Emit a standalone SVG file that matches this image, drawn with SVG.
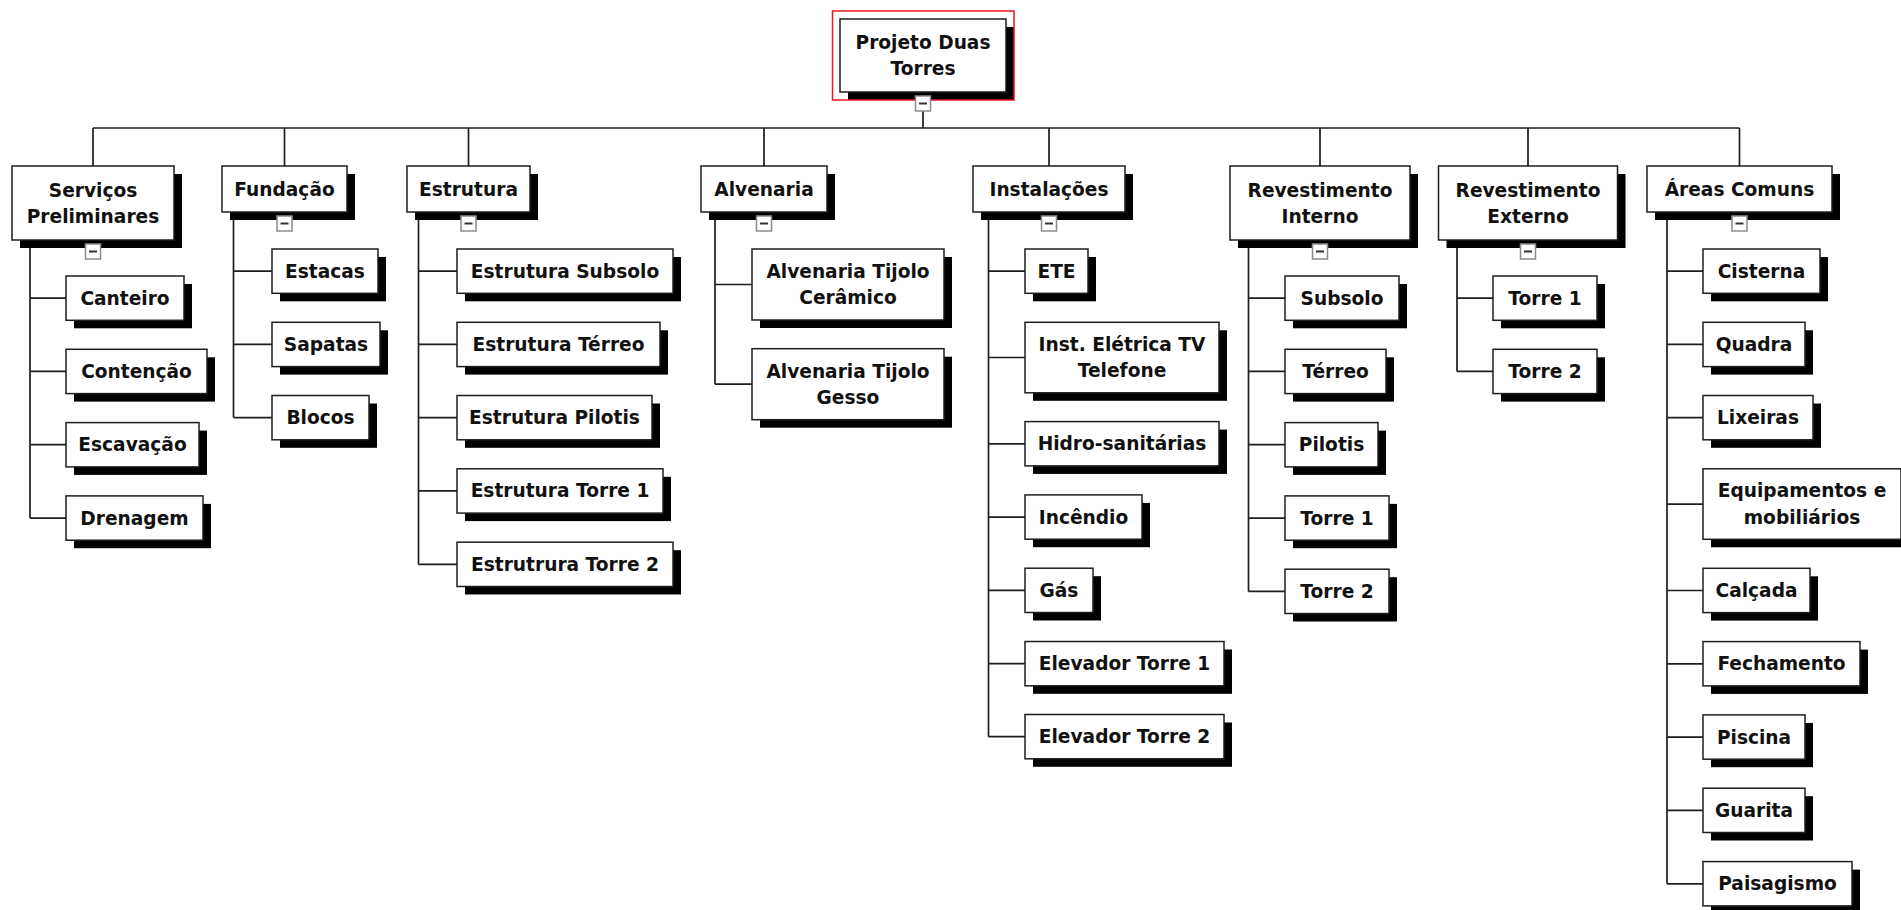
<svg xmlns="http://www.w3.org/2000/svg" width="1901" height="910" viewBox="0 0 1901 910">
<style>
.sh{fill:#000}
.bx{fill:#fff;stroke:#1e1e1e;stroke-width:1.5}
.t{font-family:"DejaVu Sans",Verdana,sans-serif;font-weight:bold;font-size:18.6px;fill:#111;text-anchor:middle}
.cb{fill:#fff;stroke:#8c8c8c;stroke-width:1.5}
.mn{stroke:#333;stroke-width:2}
.ln{fill:none;stroke:#1e1e1e;stroke-width:1.7}
.sel{fill:none;stroke:#e8191e;stroke-width:1.5}
</style>
<rect width="1901" height="910" fill="#fff"/>
<g id="connectors" class="ln">
<path d="M923 111V128M93 128H1739.5"/>
<path d="M93 128V166M284.5 128V166M468.5 128V166M764 128V166M1049 128V166M1320 128V166M1528 128V166M1739.5 128V166"/>
<path d="M30 240V518.1M30 298.1H66M30 371.4H66M30 444.7H66M30 518.1H66"/>
<path d="M233.5 212V417.6M233.5 271.1H272M233.5 344.4H272M233.5 417.6H272"/>
<path d="M418.5 212V564.4M418.5 271.1H457M418.5 344.4H457M418.5 417.6H457M418.5 490.9H457M418.5 564.4H457"/>
<path d="M715 212V384.2M715 284.5H752M715 384.2H752"/>
<path d="M988.5 212V736.7M988.5 271.1H1025M988.5 357.5H1025M988.5 443.8H1025M988.5 517.1H1025M988.5 590.4H1025M988.5 663.7H1025M988.5 736.7H1025"/>
<path d="M1248.5 240V591.4M1248.5 298.1H1285M1248.5 371.4H1285M1248.5 444.7H1285M1248.5 518.1H1285M1248.5 591.4H1285"/>
<path d="M1457 240V371.4M1457 298.1H1493M1457 371.4H1493"/>
<path d="M1667 212V883.8M1667 271.1H1703M1667 344.4H1703M1667 417.6H1703M1667 504.1H1703M1667 590.5H1703M1667 663.8H1703M1667 737.1H1703M1667 810.4H1703M1667 883.8H1703"/>
</g>
<g id="root">
<rect class="sh" x="848" y="27" width="166" height="73"/>
<rect class="bx" x="840" y="19" width="166" height="73"/>
<text class="t" x="923" y="48.5">Projeto Duas</text>
<text class="t" x="923" y="75">Torres</text>
<rect class="sel" x="832.5" y="11" width="181.5" height="89"/>
<rect class="cb" x="915.5" y="96" width="15" height="15"/><path class="mn" d="M919 103.5H927"/>
</g>
<g id="n-servicos">
<rect class="sh" x="20" y="174" width="162" height="74"/>
<rect class="bx" x="12" y="166" width="162" height="74"/>
<text class="t" x="93" y="196.5">Serviços</text>
<text class="t" x="93" y="223">Preliminares</text>
<rect class="cb" x="85.5" y="244" width="15" height="15"/><path class="mn" d="M89 251.5H97"/>
</g>
<g id="n-fundacao">
<rect class="sh" x="230" y="174" width="125" height="46"/>
<rect class="bx" x="222" y="166" width="125" height="46"/>
<text class="t" x="284.5" y="195.5">Fundação</text>
<rect class="cb" x="277" y="216" width="15" height="15"/><path class="mn" d="M280.5 223.5H288.5"/>
</g>
<g id="n-estrutura">
<rect class="sh" x="415" y="174" width="123" height="46"/>
<rect class="bx" x="407" y="166" width="123" height="46"/>
<text class="t" x="468.5" y="195.5">Estrutura</text>
<rect class="cb" x="461" y="216" width="15" height="15"/><path class="mn" d="M464.5 223.5H472.5"/>
</g>
<g id="n-alvenaria">
<rect class="sh" x="709" y="174" width="126" height="46"/>
<rect class="bx" x="701" y="166" width="126" height="46"/>
<text class="t" x="764" y="195.5">Alvenaria</text>
<rect class="cb" x="756.5" y="216" width="15" height="15"/><path class="mn" d="M760 223.5H768"/>
</g>
<g id="n-instalacoes">
<rect class="sh" x="981" y="174" width="152" height="46"/>
<rect class="bx" x="973" y="166" width="152" height="46"/>
<text class="t" x="1049" y="195.5">Instalações</text>
<rect class="cb" x="1041.5" y="216" width="15" height="15"/><path class="mn" d="M1045 223.5H1053"/>
</g>
<g id="n-rev-interno">
<rect class="sh" x="1238" y="174" width="180" height="74"/>
<rect class="bx" x="1230" y="166" width="180" height="74"/>
<text class="t" x="1320" y="196.5">Revestimento</text>
<text class="t" x="1320" y="223">Interno</text>
<rect class="cb" x="1312.5" y="244" width="15" height="15"/><path class="mn" d="M1316 251.5H1324"/>
</g>
<g id="n-rev-externo">
<rect class="sh" x="1446.5" y="174" width="179" height="74"/>
<rect class="bx" x="1438.5" y="166" width="179" height="74"/>
<text class="t" x="1528" y="196.5">Revestimento</text>
<text class="t" x="1528" y="223">Externo</text>
<rect class="cb" x="1520.5" y="244" width="15" height="15"/><path class="mn" d="M1524 251.5H1532"/>
</g>
<g id="n-areas">
<rect class="sh" x="1655" y="174" width="185" height="46"/>
<rect class="bx" x="1647" y="166" width="185" height="46"/>
<text class="t" x="1739.5" y="195.5">Áreas Comuns</text>
<rect class="cb" x="1732" y="216" width="15" height="15"/><path class="mn" d="M1735.5 223.5H1743.5"/>
</g>
<!-- Serviços children -->
<g id="n-canteiro"><rect class="sh" x="74" y="284" width="118" height="44.3"/><rect class="bx" x="66" y="276" width="118" height="44.3"/><text class="t" x="125" y="304.6">Canteiro</text></g>
<g id="n-contencao"><rect class="sh" x="74" y="357.3" width="141" height="44.3"/><rect class="bx" x="66" y="349.3" width="141" height="44.3"/><text class="t" x="136.5" y="377.9">Contenção</text></g>
<g id="n-escavacao"><rect class="sh" x="74" y="430.6" width="133" height="44.3"/><rect class="bx" x="66" y="422.6" width="133" height="44.3"/><text class="t" x="132.5" y="451.2">Escavação</text></g>
<g id="n-drenagem"><rect class="sh" x="74" y="503.9" width="137" height="44.3"/><rect class="bx" x="66" y="495.9" width="137" height="44.3"/><text class="t" x="134.5" y="524.5">Drenagem</text></g>
<!-- Fundação children -->
<g id="n-estacas"><rect class="sh" x="280" y="257" width="106" height="44.3"/><rect class="bx" x="272" y="249" width="106" height="44.3"/><text class="t" x="325" y="277.6">Estacas</text></g>
<g id="n-sapatas"><rect class="sh" x="280" y="330.3" width="108" height="44.3"/><rect class="bx" x="272" y="322.3" width="108" height="44.3"/><text class="t" x="326" y="350.9">Sapatas</text></g>
<g id="n-blocos"><rect class="sh" x="280" y="403.5" width="97" height="44.3"/><rect class="bx" x="272" y="395.5" width="97" height="44.3"/><text class="t" x="320.5" y="424.1">Blocos</text></g>
<!-- Estrutura children -->
<g id="n-est-subsolo"><rect class="sh" x="465" y="257" width="216" height="44.3"/><rect class="bx" x="457" y="249" width="216" height="44.3"/><text class="t" x="565" y="277.6">Estrutura Subsolo</text></g>
<g id="n-est-terreo"><rect class="sh" x="465" y="330.3" width="203" height="44.3"/><rect class="bx" x="457" y="322.3" width="203" height="44.3"/><text class="t" x="558.5" y="350.9">Estrutura Térreo</text></g>
<g id="n-est-pilotis"><rect class="sh" x="465" y="403.5" width="195" height="44.3"/><rect class="bx" x="457" y="395.5" width="195" height="44.3"/><text class="t" x="554.5" y="424.1">Estrutura Pilotis</text></g>
<g id="n-est-torre1"><rect class="sh" x="465" y="476.8" width="206" height="44.3"/><rect class="bx" x="457" y="468.8" width="206" height="44.3"/><text class="t" x="560" y="497.4">Estrutura Torre 1</text></g>
<g id="n-est-torre2"><rect class="sh" x="465" y="550.2" width="216" height="44.3"/><rect class="bx" x="457" y="542.2" width="216" height="44.3"/><text class="t" x="565" y="570.8">Estrutrura Torre 2</text></g>
<!-- Alvenaria children -->
<g id="n-alv-ceramico"><rect class="sh" x="760" y="257" width="192" height="71"/><rect class="bx" x="752" y="249" width="192" height="71"/><text class="t" x="848" y="277.8">Alvenaria Tijolo</text><text class="t" x="848" y="304.3">Cerâmico</text></g>
<g id="n-alv-gesso"><rect class="sh" x="760" y="356.7" width="192" height="71"/><rect class="bx" x="752" y="348.7" width="192" height="71"/><text class="t" x="848" y="377.5">Alvenaria Tijolo</text><text class="t" x="848" y="404">Gesso</text></g>
<!-- Instalações children -->
<g id="n-ete"><rect class="sh" x="1033" y="257" width="63" height="44.3"/><rect class="bx" x="1025" y="249" width="63" height="44.3"/><text class="t" x="1056.5" y="277.6">ETE</text></g>
<g id="n-eletrica"><rect class="sh" x="1033" y="330.3" width="194" height="70.5"/><rect class="bx" x="1025" y="322.3" width="194" height="70.5"/><text class="t" x="1122" y="350.8">Inst. Elétrica TV</text><text class="t" x="1122" y="377.3">Telefone</text></g>
<g id="n-hidro"><rect class="sh" x="1033" y="429.6" width="194" height="44.3"/><rect class="bx" x="1025" y="421.6" width="194" height="44.3"/><text class="t" x="1122" y="450.2">Hidro-sanitárias</text></g>
<g id="n-incendio"><rect class="sh" x="1033" y="502.9" width="117" height="44.3"/><rect class="bx" x="1025" y="494.9" width="117" height="44.3"/><text class="t" x="1083.5" y="523.5">Incêndio</text></g>
<g id="n-gas"><rect class="sh" x="1033" y="576.2" width="68" height="44.3"/><rect class="bx" x="1025" y="568.2" width="68" height="44.3"/><text class="t" x="1059" y="596.8">Gás</text></g>
<g id="n-elev1"><rect class="sh" x="1033" y="649.5" width="199" height="44.3"/><rect class="bx" x="1025" y="641.5" width="199" height="44.3"/><text class="t" x="1124.5" y="670.1">Elevador Torre 1</text></g>
<g id="n-elev2"><rect class="sh" x="1033" y="722.5" width="199" height="44.3"/><rect class="bx" x="1025" y="714.5" width="199" height="44.3"/><text class="t" x="1124.5" y="743.1">Elevador Torre 2</text></g>
<!-- Revestimento Interno children -->
<g id="n-ri-subsolo"><rect class="sh" x="1293" y="284" width="114" height="44.3"/><rect class="bx" x="1285" y="276" width="114" height="44.3"/><text class="t" x="1342" y="304.6">Subsolo</text></g>
<g id="n-ri-terreo"><rect class="sh" x="1293" y="357.3" width="101" height="44.3"/><rect class="bx" x="1285" y="349.3" width="101" height="44.3"/><text class="t" x="1335.5" y="377.9">Térreo</text></g>
<g id="n-ri-pilotis"><rect class="sh" x="1293" y="430.6" width="93" height="44.3"/><rect class="bx" x="1285" y="422.6" width="93" height="44.3"/><text class="t" x="1331.5" y="451.2">Pilotis</text></g>
<g id="n-ri-torre1"><rect class="sh" x="1293" y="503.9" width="104" height="44.3"/><rect class="bx" x="1285" y="495.9" width="104" height="44.3"/><text class="t" x="1337" y="524.5">Torre 1</text></g>
<g id="n-ri-torre2"><rect class="sh" x="1293" y="577.2" width="104" height="44.3"/><rect class="bx" x="1285" y="569.2" width="104" height="44.3"/><text class="t" x="1337" y="597.8">Torre 2</text></g>
<!-- Revestimento Externo children -->
<g id="n-re-torre1"><rect class="sh" x="1501" y="284" width="104" height="44.3"/><rect class="bx" x="1493" y="276" width="104" height="44.3"/><text class="t" x="1545" y="304.6">Torre 1</text></g>
<g id="n-re-torre2"><rect class="sh" x="1501" y="357.3" width="104" height="44.3"/><rect class="bx" x="1493" y="349.3" width="104" height="44.3"/><text class="t" x="1545" y="377.9">Torre 2</text></g>
<!-- Áreas Comuns children -->
<g id="n-cisterna"><rect class="sh" x="1711" y="257" width="117" height="44.3"/><rect class="bx" x="1703" y="249" width="117" height="44.3"/><text class="t" x="1761.5" y="277.6">Cisterna</text></g>
<g id="n-quadra"><rect class="sh" x="1711" y="330.3" width="102" height="44.3"/><rect class="bx" x="1703" y="322.3" width="102" height="44.3"/><text class="t" x="1754" y="350.9">Quadra</text></g>
<g id="n-lixeiras"><rect class="sh" x="1711" y="403.5" width="110" height="44.3"/><rect class="bx" x="1703" y="395.5" width="110" height="44.3"/><text class="t" x="1758" y="424.1">Lixeiras</text></g>
<g id="n-equip"><rect class="sh" x="1711" y="476.8" width="198" height="70.5"/><rect class="bx" x="1703" y="468.8" width="198" height="70.5"/><text class="t" x="1802" y="497.4">Equipamentos e</text><text class="t" x="1802" y="523.9">mobiliários</text></g>
<g id="n-calcada"><rect class="sh" x="1711" y="576.3" width="107" height="44.3"/><rect class="bx" x="1703" y="568.3" width="107" height="44.3"/><text class="t" x="1756.5" y="596.9">Calçada</text></g>
<g id="n-fechamento"><rect class="sh" x="1711" y="649.6" width="157" height="44.3"/><rect class="bx" x="1703" y="641.6" width="157" height="44.3"/><text class="t" x="1781.5" y="670.2">Fechamento</text></g>
<g id="n-piscina"><rect class="sh" x="1711" y="722.9" width="102" height="44.3"/><rect class="bx" x="1703" y="714.9" width="102" height="44.3"/><text class="t" x="1754" y="743.5">Piscina</text></g>
<g id="n-guarita"><rect class="sh" x="1711" y="796.2" width="102" height="44.3"/><rect class="bx" x="1703" y="788.2" width="102" height="44.3"/><text class="t" x="1754" y="816.8">Guarita</text></g>
<g id="n-paisagismo"><rect class="sh" x="1711" y="869.6" width="149" height="44.3"/><rect class="bx" x="1703" y="861.6" width="149" height="44.3"/><text class="t" x="1777.5" y="890.2">Paisagismo</text></g>
</svg>
